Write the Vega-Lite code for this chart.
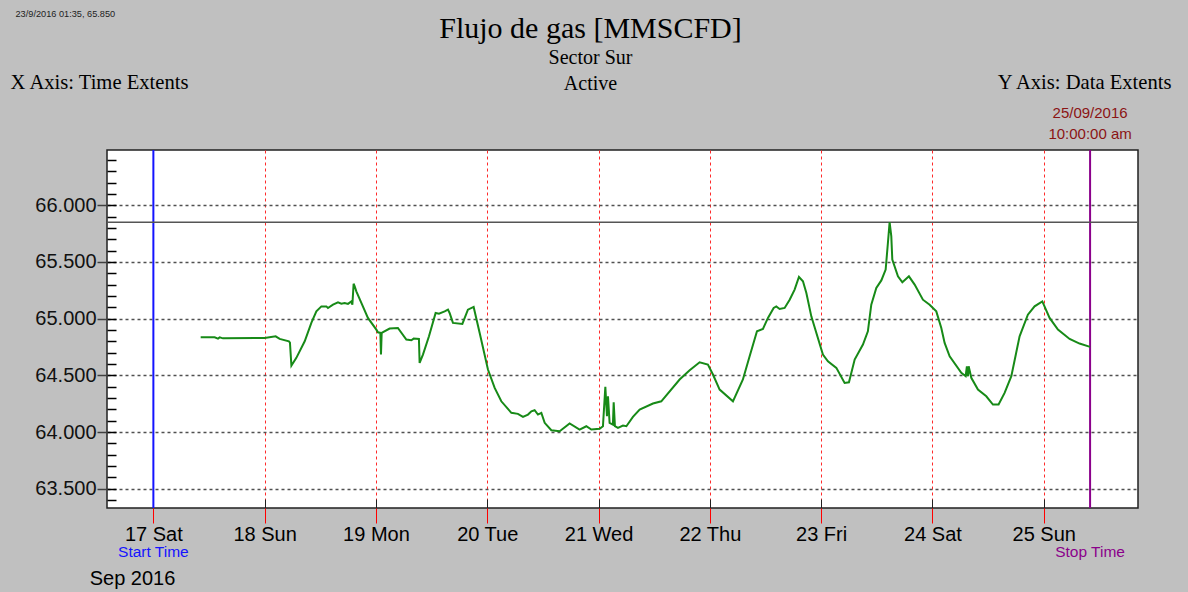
{
  "$schema": "https://vega.github.io/schema/vega-lite/v6.json",
  "width": 1031,
  "height": 358,
  "autosize": {"type": "none"},
  "padding": {"left": 107, "top": 150, "right": 50, "bottom": 84},
  "background": "#c0c0c0",
  "config": {
    "view": {"fill": "#ffffff", "stroke": "#202020", "strokeWidth": 1.5},
    "font": "Liberation Sans"
  },
  "title": {
    "text": "Flujo de gas [MMSCFD]",
    "subtitle": ["Sector Sur", "Active"],
    "font": "Liberation Serif",
    "fontSize": 30,
    "fontWeight": "normal",
    "color": "#000000",
    "subtitleFont": "Liberation Serif",
    "subtitleFontSize": 20,
    "subtitleColor": "#000000",
    "subtitleLineHeight": 26,
    "subtitlePadding": 4,
    "anchor": "middle",
    "frame": "group",
    "dx": -32,
    "dy": 89
  },
  "datasets": {
    "markers": [
      {"t": "2016-09-17T00:00", "label": "Start Time"},
      {"t": "2016-09-25T10:00", "label": "Stop Time"}
    ],
    "flow": [
      {"t": "2016-09-17T10:12", "v": 64.835},
      {"t": "2016-09-17T13:13", "v": 64.835},
      {"t": "2016-09-17T13:56", "v": 64.824},
      {"t": "2016-09-17T14:18", "v": 64.835},
      {"t": "2016-09-17T15:01", "v": 64.826},
      {"t": "2016-09-18T00:00", "v": 64.830},
      {"t": "2016-09-18T02:22", "v": 64.844},
      {"t": "2016-09-18T03:14", "v": 64.821},
      {"t": "2016-09-18T05:14", "v": 64.800},
      {"t": "2016-09-18T05:27", "v": 64.789},
      {"t": "2016-09-18T05:46", "v": 64.586},
      {"t": "2016-09-18T06:50", "v": 64.654},
      {"t": "2016-09-18T08:38", "v": 64.800},
      {"t": "2016-09-18T10:04", "v": 64.962},
      {"t": "2016-09-18T11:09", "v": 65.064},
      {"t": "2016-09-18T12:14", "v": 65.108},
      {"t": "2016-09-18T13:18", "v": 65.108},
      {"t": "2016-09-18T13:39", "v": 65.094},
      {"t": "2016-09-18T14:44", "v": 65.123},
      {"t": "2016-09-18T15:49", "v": 65.144},
      {"t": "2016-09-18T16:32", "v": 65.132},
      {"t": "2016-09-18T17:15", "v": 65.138},
      {"t": "2016-09-18T17:58", "v": 65.130},
      {"t": "2016-09-18T18:42", "v": 65.152},
      {"t": "2016-09-18T18:55", "v": 65.123},
      {"t": "2016-09-18T19:11", "v": 65.308},
      {"t": "2016-09-18T19:25", "v": 65.285},
      {"t": "2016-09-18T19:46", "v": 65.241},
      {"t": "2016-09-18T20:51", "v": 65.138},
      {"t": "2016-09-18T22:16", "v": 65.006},
      {"t": "2016-09-19T00:05", "v": 64.903},
      {"t": "2016-09-19T00:26", "v": 64.879},
      {"t": "2016-09-19T00:57", "v": 64.874},
      {"t": "2016-09-19T01:05", "v": 64.683},
      {"t": "2016-09-19T01:14", "v": 64.874},
      {"t": "2016-09-19T02:57", "v": 64.912},
      {"t": "2016-09-19T04:44", "v": 64.918},
      {"t": "2016-09-19T06:33", "v": 64.815},
      {"t": "2016-09-19T07:38", "v": 64.809},
      {"t": "2016-09-19T08:08", "v": 64.824},
      {"t": "2016-09-19T09:16", "v": 64.821},
      {"t": "2016-09-19T09:25", "v": 64.610},
      {"t": "2016-09-19T10:08", "v": 64.683},
      {"t": "2016-09-19T11:26", "v": 64.844},
      {"t": "2016-09-19T12:52", "v": 65.050},
      {"t": "2016-09-19T13:35", "v": 65.044},
      {"t": "2016-09-19T14:49", "v": 65.064},
      {"t": "2016-09-19T15:32", "v": 65.079},
      {"t": "2016-09-19T15:53", "v": 65.050},
      {"t": "2016-09-19T16:36", "v": 64.962},
      {"t": "2016-09-19T18:38", "v": 64.953},
      {"t": "2016-09-19T19:50", "v": 65.079},
      {"t": "2016-09-19T21:04", "v": 65.103},
      {"t": "2016-09-19T22:22", "v": 64.874},
      {"t": "2016-09-20T00:09", "v": 64.551},
      {"t": "2016-09-20T01:36", "v": 64.389},
      {"t": "2016-09-20T03:02", "v": 64.271},
      {"t": "2016-09-20T05:12", "v": 64.169},
      {"t": "2016-09-20T06:37", "v": 64.160},
      {"t": "2016-09-20T07:42", "v": 64.134},
      {"t": "2016-09-20T08:47", "v": 64.154},
      {"t": "2016-09-20T09:31", "v": 64.183},
      {"t": "2016-09-20T10:13", "v": 64.192},
      {"t": "2016-09-20T10:56", "v": 64.154},
      {"t": "2016-09-20T11:40", "v": 64.169},
      {"t": "2016-09-20T12:23", "v": 64.081},
      {"t": "2016-09-20T13:49", "v": 64.016},
      {"t": "2016-09-20T15:37", "v": 64.007},
      {"t": "2016-09-20T17:46", "v": 64.075},
      {"t": "2016-09-20T19:55", "v": 64.022},
      {"t": "2016-09-20T21:22", "v": 64.051},
      {"t": "2016-09-20T22:27", "v": 64.022},
      {"t": "2016-09-21T00:14", "v": 64.028},
      {"t": "2016-09-21T00:57", "v": 64.051},
      {"t": "2016-09-21T01:28", "v": 64.398},
      {"t": "2016-09-21T01:49", "v": 64.139},
      {"t": "2016-09-21T02:02", "v": 64.315},
      {"t": "2016-09-21T02:23", "v": 64.081},
      {"t": "2016-09-21T03:06", "v": 64.066},
      {"t": "2016-09-21T03:16", "v": 64.263},
      {"t": "2016-09-21T03:32", "v": 64.051},
      {"t": "2016-09-21T04:11", "v": 64.037},
      {"t": "2016-09-21T05:16", "v": 64.057},
      {"t": "2016-09-21T06:00", "v": 64.051},
      {"t": "2016-09-21T07:25", "v": 64.134},
      {"t": "2016-09-21T08:52", "v": 64.198},
      {"t": "2016-09-21T11:44", "v": 64.251},
      {"t": "2016-09-21T13:32", "v": 64.271},
      {"t": "2016-09-21T17:29", "v": 64.463},
      {"t": "2016-09-21T19:39", "v": 64.544},
      {"t": "2016-09-21T21:48", "v": 64.615},
      {"t": "2016-09-21T23:35", "v": 64.595},
      {"t": "2016-09-22T00:40", "v": 64.507},
      {"t": "2016-09-22T02:07", "v": 64.374},
      {"t": "2016-09-22T04:59", "v": 64.271},
      {"t": "2016-09-22T07:08", "v": 64.463},
      {"t": "2016-09-22T08:35", "v": 64.668},
      {"t": "2016-09-22T10:10", "v": 64.888},
      {"t": "2016-09-22T11:27", "v": 64.909},
      {"t": "2016-09-22T12:32", "v": 65.006},
      {"t": "2016-09-22T13:46", "v": 65.094},
      {"t": "2016-09-22T14:20", "v": 65.108},
      {"t": "2016-09-22T15:03", "v": 65.085},
      {"t": "2016-09-22T16:08", "v": 65.094},
      {"t": "2016-09-22T17:13", "v": 65.167},
      {"t": "2016-09-22T18:17", "v": 65.256},
      {"t": "2016-09-22T19:13", "v": 65.367},
      {"t": "2016-09-22T20:05", "v": 65.329},
      {"t": "2016-09-22T20:49", "v": 65.226},
      {"t": "2016-09-22T21:53", "v": 65.020},
      {"t": "2016-09-23T00:23", "v": 64.683},
      {"t": "2016-09-23T01:28", "v": 64.624},
      {"t": "2016-09-23T03:17", "v": 64.566},
      {"t": "2016-09-23T05:04", "v": 64.433},
      {"t": "2016-09-23T06:00", "v": 64.439},
      {"t": "2016-09-23T07:14", "v": 64.639},
      {"t": "2016-09-23T09:01", "v": 64.771},
      {"t": "2016-09-23T10:05", "v": 64.888},
      {"t": "2016-09-23T10:49", "v": 65.123},
      {"t": "2016-09-23T11:54", "v": 65.270},
      {"t": "2016-09-23T12:59", "v": 65.337},
      {"t": "2016-09-23T13:55", "v": 65.432},
      {"t": "2016-09-23T14:24", "v": 65.667},
      {"t": "2016-09-23T14:46", "v": 65.850},
      {"t": "2016-09-23T15:08", "v": 65.725},
      {"t": "2016-09-23T15:21", "v": 65.520},
      {"t": "2016-09-23T16:34", "v": 65.373},
      {"t": "2016-09-23T17:31", "v": 65.320},
      {"t": "2016-09-23T18:56", "v": 65.373},
      {"t": "2016-09-23T20:10", "v": 65.300},
      {"t": "2016-09-23T21:57", "v": 65.167},
      {"t": "2016-09-23T23:24", "v": 65.123},
      {"t": "2016-09-24T00:50", "v": 65.064},
      {"t": "2016-09-24T01:55", "v": 64.918},
      {"t": "2016-09-24T02:38", "v": 64.786},
      {"t": "2016-09-24T03:43", "v": 64.668},
      {"t": "2016-09-24T06:14", "v": 64.522},
      {"t": "2016-09-24T07:10", "v": 64.492},
      {"t": "2016-09-24T07:26", "v": 64.580},
      {"t": "2016-09-24T07:40", "v": 64.492},
      {"t": "2016-09-24T07:49", "v": 64.580},
      {"t": "2016-09-24T08:23", "v": 64.478},
      {"t": "2016-09-24T09:49", "v": 64.374},
      {"t": "2016-09-24T11:37", "v": 64.315},
      {"t": "2016-09-24T13:03", "v": 64.242},
      {"t": "2016-09-24T14:16", "v": 64.242},
      {"t": "2016-09-24T15:34", "v": 64.345},
      {"t": "2016-09-24T17:01", "v": 64.492},
      {"t": "2016-09-24T18:48", "v": 64.844},
      {"t": "2016-09-24T20:35", "v": 65.035},
      {"t": "2016-09-24T22:02", "v": 65.108},
      {"t": "2016-09-24T23:42", "v": 65.152},
      {"t": "2016-09-25T01:16", "v": 65.006},
      {"t": "2016-09-25T03:04", "v": 64.903},
      {"t": "2016-09-25T05:35", "v": 64.821},
      {"t": "2016-09-25T07:44", "v": 64.780},
      {"t": "2016-09-25T10:00", "v": 64.751}
    ]
  },
  "resolve": {"axis": {"x": "independent", "y": "independent"}},
  "layer": [
    {
      "data": {"name": "markers"},
      "mark": {"type": "rule", "strokeWidth": 2},
      "encoding": {
        "x": {
          "field": "t", "type": "temporal",
          "scale": {"domain": [{"year": 2016, "month": 9, "date": 16, "hours": 14}, {"year": 2016, "month": 9, "date": 25, "hours": 20, "minutes": 20}]},
          "axis": {
            "orient": "top", "offset": -358,
            "values": [
              {"year": 2016, "month": 9, "date": 18}, {"year": 2016, "month": 9, "date": 19},
              {"year": 2016, "month": 9, "date": 20}, {"year": 2016, "month": 9, "date": 21},
              {"year": 2016, "month": 9, "date": 22}, {"year": 2016, "month": 9, "date": 23},
              {"year": 2016, "month": 9, "date": 24}, {"year": 2016, "month": 9, "date": 25}
            ],
            "labels": false, "ticks": true, "tickSize": 9, "tickColor": "#202020", "tickWidth": 1,
            "domain": false, "grid": false,
            "title": "23/9/2016 01:35, 65.850",
            "titleX": -92, "titleY": -495, "titleAlign": "left", "titleBaseline": "middle", "titleAngle": 0,
            "titleFont": "Liberation Sans", "titleFontSize": 9.2, "titleFontWeight": "normal", "titleColor": "#222222"
          }
        },
        "color": {"field": "label", "type": "nominal", "scale": {"domain": ["Start Time", "Stop Time"], "range": ["#1414ff", "#8b008b"]}, "legend": null}
      }
    },
    {
      "data": {"values": [{"v": 65.85}]},
      "mark": {"type": "rule", "color": "#555555", "strokeWidth": 1.5},
      "encoding": {
        "y": {
          "field": "v", "type": "quantitative",
          "scale": {"domain": [63.33, 66.487], "nice": false, "zero": false},
          "axis": {
            "orient": "right", "offset": -1031,
            "values": [63.4, 63.5, 63.6, 63.7, 63.8, 63.9, 64.0, 64.1, 64.2, 64.3, 64.4, 64.5, 64.6, 64.7, 64.8, 64.9, 65.0, 65.1, 65.2, 65.3, 65.4, 65.5, 65.6, 65.7, 65.8, 65.9, 66.0, 66.1, 66.2, 66.3, 66.4],
            "labels": false, "domain": false, "grid": false,
            "ticks": true, "tickSize": 9, "tickColor": "#000000", "tickWidth": 1.5,
            "title": "Y Axis: Data Extents",
            "titleX": 1064, "titleY": -68, "titleAlign": "right", "titleBaseline": "middle", "titleAngle": 0,
            "titleFont": "Liberation Serif", "titleFontSize": 20.6, "titleFontWeight": "normal", "titleColor": "#000000"
          }
        }
      }
    },
    {
      "data": {"name": "flow"},
      "mark": {"type": "line", "color": "#178a17", "strokeWidth": 2},
      "encoding": {
        "x": {
          "field": "t", "type": "temporal",
          "scale": {"domain": [{"year": 2016, "month": 9, "date": 16, "hours": 14}, {"year": 2016, "month": 9, "date": 25, "hours": 20, "minutes": 20}]},
          "axis": {
            "orient": "bottom",
            "values": [
              {"year": 2016, "month": 9, "date": 17}, {"year": 2016, "month": 9, "date": 18},
              {"year": 2016, "month": 9, "date": 19}, {"year": 2016, "month": 9, "date": 20},
              {"year": 2016, "month": 9, "date": 21}, {"year": 2016, "month": 9, "date": 22},
              {"year": 2016, "month": 9, "date": 23}, {"year": 2016, "month": 9, "date": 24},
              {"year": 2016, "month": 9, "date": 25}
            ],
            "format": "%d %a",
            "labelFont": "Liberation Sans", "labelFontSize": 20, "labelColor": "#000000", "labelPadding": 1,
            "tickColor": "#ff0000", "tickSize": 15, "tickWidth": 1,
            "domain": false,
            "grid": true, "gridColor": "#ff2a2a", "gridDash": [3, 3], "gridWidth": 1,
            "title": "Sep 2016",
            "titleX": 25, "titleY": 70, "titleAlign": "center", "titleBaseline": "middle",
            "titleFont": "Liberation Sans", "titleFontSize": 20, "titleFontWeight": "normal", "titleColor": "#000000"
          }
        },
        "y": {
          "field": "v", "type": "quantitative",
          "scale": {"domain": [63.33, 66.487], "nice": false, "zero": false},
          "axis": {
            "orient": "left",
            "values": [63.5, 64.0, 64.5, 65.0, 65.5, 66.0],
            "format": ".3f",
            "labelFont": "Liberation Sans", "labelFontSize": 20, "labelColor": "#111111", "labelPadding": 1,
            "tickColor": "#404040", "tickSize": 10, "tickWidth": 1.5,
            "domain": false,
            "grid": true, "gridColor": "#505050", "gridDash": [3, 3], "gridWidth": 1.5,
            "title": "X Axis: Time Extents",
            "titleX": -97, "titleY": -68, "titleAlign": "left", "titleBaseline": "middle", "titleAngle": 0,
            "titleFont": "Liberation Serif", "titleFontSize": 20.6, "titleFontWeight": "normal", "titleColor": "#000000"
          }
        }
      }
    },
    {
      "data": {"name": "markers"},
      "mark": {"type": "text", "fontSize": 15.5, "align": "center", "baseline": "middle", "dy": 44},
      "encoding": {
        "x": {"field": "t", "type": "temporal", "axis": null,
          "scale": {"domain": [{"year": 2016, "month": 9, "date": 16, "hours": 14}, {"year": 2016, "month": 9, "date": 25, "hours": 20, "minutes": 20}]}},
        "y": {"datum": 63.33, "type": "quantitative", "axis": null},
        "text": {"field": "label"},
        "color": {"field": "label", "type": "nominal", "legend": null}
      }
    },
    {
      "data": {"values": [{"t": "2016-09-25T10:00", "stamp": "25/09/2016\n10:00:00 am"}]},
      "mark": {"type": "text", "fontSize": 15, "align": "center", "baseline": "middle", "dy": -37, "lineBreak": "\n", "lineHeight": 21, "color": "#8b1414"},
      "encoding": {
        "x": {"field": "t", "type": "temporal", "axis": null,
          "scale": {"domain": [{"year": 2016, "month": 9, "date": 16, "hours": 14}, {"year": 2016, "month": 9, "date": 25, "hours": 20, "minutes": 20}]}},
        "y": {"datum": 66.487, "type": "quantitative", "axis": null},
        "text": {"field": "stamp"}
      }
    }
  ]
}
